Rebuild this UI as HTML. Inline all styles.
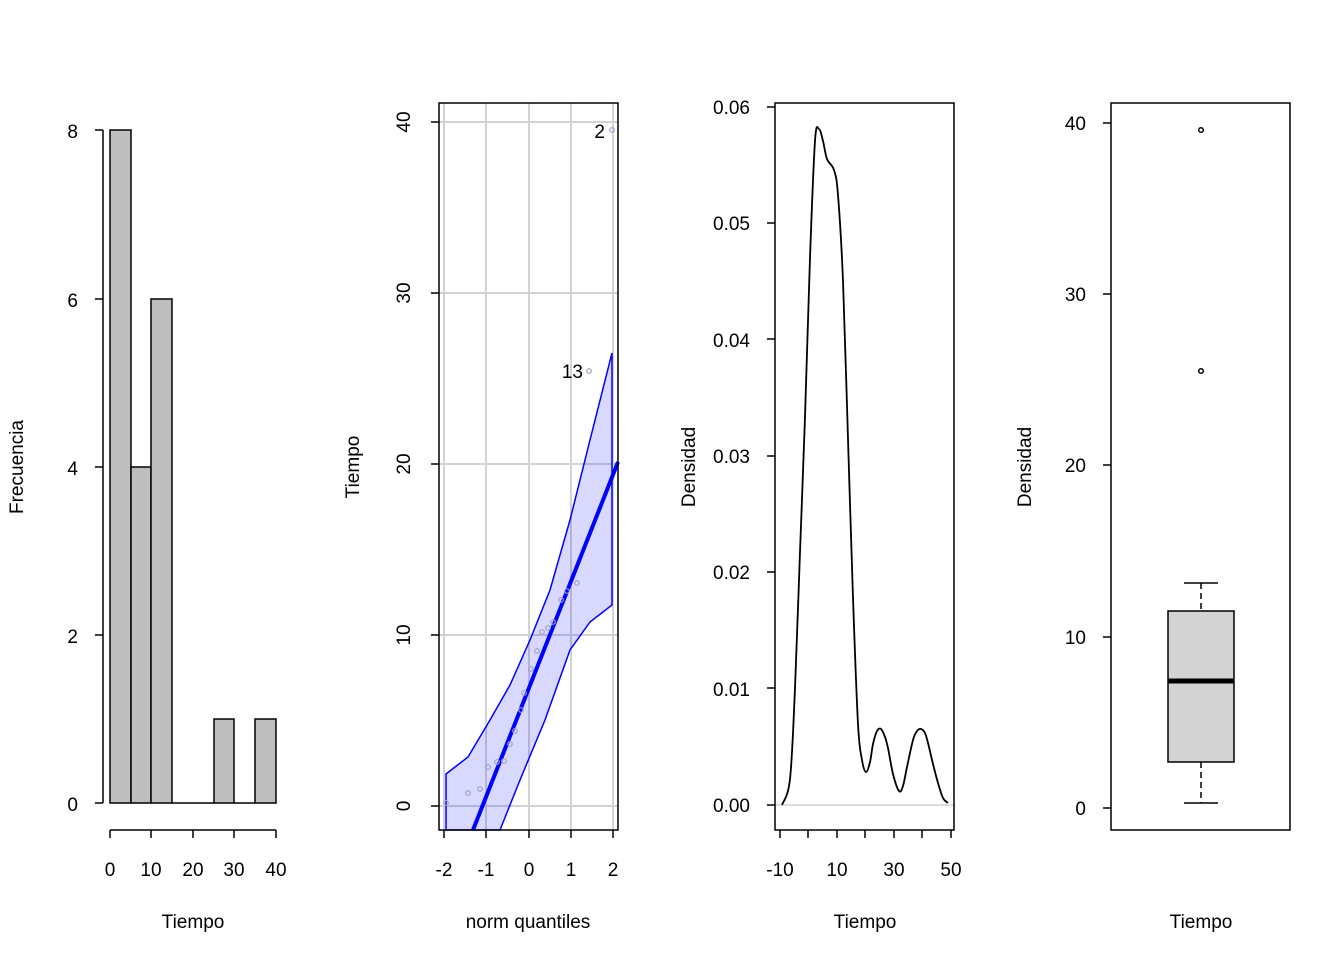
<!DOCTYPE html>
<html><head><meta charset="utf-8"><style>body{margin:0;background:#fff}svg{display:block}text{font-family:"Liberation Sans",Arial,sans-serif;font-size:19px;fill:#000}</style></head><body>
<svg width="1344" height="960" xmlns="http://www.w3.org/2000/svg">
<!-- Panel 1 histogram -->
<g stroke="#000" stroke-width="1.5" fill="#bebebe">
<rect x="110" y="130" width="21" height="673"/>
<rect x="131" y="467" width="20" height="336"/>
<rect x="151" y="299" width="21" height="504"/>
<line x1="172" y1="803" x2="214" y2="803"/>
<rect x="214" y="719" width="20" height="84"/>
<line x1="234" y1="803" x2="255" y2="803"/>
<rect x="255" y="719" width="21" height="84"/>
</g>
<g stroke="#000" stroke-width="1.5" fill="none">
<line x1="103" y1="130" x2="103" y2="803"/>
<line x1="95" y1="130" x2="103" y2="130"/><line x1="95" y1="299" x2="103" y2="299"/><line x1="95" y1="467" x2="103" y2="467"/><line x1="95" y1="635" x2="103" y2="635"/><line x1="95" y1="803" x2="103" y2="803"/>
<line x1="110" y1="830" x2="276" y2="830"/>
<line x1="110" y1="830" x2="110" y2="838"/><line x1="151" y1="830" x2="151" y2="838"/><line x1="193" y1="830" x2="193" y2="838"/><line x1="234" y1="830" x2="234" y2="838"/><line x1="276" y1="830" x2="276" y2="838"/>
</g>
<g text-anchor="end"><text x="78" y="138">8</text><text x="78" y="307">6</text><text x="78" y="475">4</text><text x="78" y="643">2</text><text x="78" y="811">0</text></g>
<g text-anchor="middle"><text x="110" y="876">0</text><text x="151" y="876">10</text><text x="193" y="876">20</text><text x="234" y="876">30</text><text x="276" y="876">40</text>
<text x="193" y="928">Tiempo</text>
<text transform="translate(23,467) rotate(-90)">Frecuencia</text></g>

<!-- Panel 2 QQ -->
<g stroke="#d3d3d3" stroke-width="2">
<line x1="444" y1="103" x2="444" y2="830"/><line x1="486" y1="103" x2="486" y2="830"/><line x1="529" y1="103" x2="529" y2="830"/><line x1="571" y1="103" x2="571" y2="830"/><line x1="613" y1="103" x2="613" y2="830"/>
<line x1="439" y1="122" x2="618" y2="122"/><line x1="439" y1="293" x2="618" y2="293"/><line x1="439" y1="464" x2="618" y2="464"/><line x1="439" y1="635" x2="618" y2="635"/><line x1="439" y1="806" x2="618" y2="806"/>
</g>
<polygon points="446,774 468,757 490,720 510,685 530,640 550,590 570,520 590,440 612,353 612,605 590,622 570,650 545,720 520,780 500,830 446,830" fill="rgba(0,0,255,0.15)" stroke="#0000ff" stroke-width="1.5"/>
<line x1="473" y1="830" x2="618" y2="462" stroke="#0000ff" stroke-width="4"/>
<g fill="none" stroke="#a0a0c0" stroke-width="1.2">
<circle cx="446" cy="803" r="2.3"/><circle cx="468" cy="793" r="2.3"/><circle cx="480" cy="789" r="2.3"/><circle cx="488" cy="767" r="2.3"/><circle cx="497" cy="762" r="2.3"/><circle cx="504" cy="761" r="2.3"/><circle cx="510" cy="744" r="2.3"/><circle cx="515" cy="731" r="2.3"/><circle cx="521" cy="710" r="2.3"/><circle cx="524" cy="693" r="2.3"/><circle cx="531" cy="669" r="2.3"/><circle cx="537" cy="651" r="2.3"/><circle cx="542" cy="632" r="2.3"/><circle cx="548" cy="628" r="2.3"/><circle cx="553" cy="622" r="2.3"/><circle cx="561" cy="600" r="2.3"/><circle cx="567" cy="591" r="2.3"/><circle cx="577" cy="583" r="2.3"/><circle cx="589" cy="371" r="2.3"/><circle cx="612" cy="130" r="2.3"/>
</g>
<text x="583" y="378" text-anchor="end">13</text>
<text x="605" y="138" text-anchor="end">2</text>
<g stroke="#000" stroke-width="1.5" fill="none">
<rect x="439" y="103" width="179" height="727"/>
<line x1="444" y1="830" x2="444" y2="838"/><line x1="486" y1="830" x2="486" y2="838"/><line x1="529" y1="830" x2="529" y2="838"/><line x1="571" y1="830" x2="571" y2="838"/><line x1="613" y1="830" x2="613" y2="838"/>
<line x1="431" y1="122" x2="439" y2="122"/><line x1="431" y1="293" x2="439" y2="293"/><line x1="431" y1="464" x2="439" y2="464"/><line x1="431" y1="635" x2="439" y2="635"/><line x1="431" y1="806" x2="439" y2="806"/>
</g>
<g text-anchor="middle"><text x="444" y="876">-2</text><text x="486" y="876">-1</text><text x="529" y="876">0</text><text x="571" y="876">1</text><text x="613" y="876">2</text>
<text x="528" y="928">norm quantiles</text>
<text transform="translate(359,467) rotate(-90)">Tiempo</text>
<text transform="translate(410,122) rotate(-90)">40</text><text transform="translate(410,293) rotate(-90)">30</text><text transform="translate(410,464) rotate(-90)">20</text><text transform="translate(410,635) rotate(-90)">10</text><text transform="translate(410,806) rotate(-90)">0</text></g>

<!-- Panel 3 density -->
<line x1="775" y1="805" x2="954" y2="805" stroke="#bebebe" stroke-width="1"/>
<path id="dens" fill="none" stroke="#000" stroke-width="1.8" stroke-linejoin="round" d="M782,805 L790,779 L795,688 L800,552 L805,417 L810,258 L815,141 L819,129 L823,141 L827,159 L834,170 L838,195 L843,281 L848,439 L853,598 L858,724 L862,760 L866,772 L870,762 L873,744 L877,731 L881,729 L885,737 L888,748 L893,774 L899,791 L903,786 L907,767 L913,740 L917,731 L921,729 L925,733 L928,743 L933,764 L938,783 L943,798 L948,803"/>
<g stroke="#000" stroke-width="1.5" fill="none">
<rect x="775" y="103" width="179" height="727"/>
<line x1="767" y1="107" x2="775" y2="107"/><line x1="767" y1="223" x2="775" y2="223"/><line x1="767" y1="339" x2="775" y2="339"/><line x1="767" y1="456" x2="775" y2="456"/><line x1="767" y1="572" x2="775" y2="572"/><line x1="767" y1="688" x2="775" y2="688"/><line x1="767" y1="805" x2="775" y2="805"/>
<line x1="780" y1="830" x2="780" y2="838"/><line x1="808" y1="830" x2="808" y2="838"/><line x1="837" y1="830" x2="837" y2="838"/><line x1="865" y1="830" x2="865" y2="838"/><line x1="894" y1="830" x2="894" y2="838"/><line x1="922" y1="830" x2="922" y2="838"/><line x1="951" y1="830" x2="951" y2="838"/>
</g>
<g text-anchor="end"><text x="750" y="114">0.06</text><text x="750" y="230">0.05</text><text x="750" y="347">0.04</text><text x="750" y="463">0.03</text><text x="750" y="579">0.02</text><text x="750" y="696">0.01</text><text x="750" y="812">0.00</text></g>
<g text-anchor="middle"><text x="780" y="876">-10</text><text x="837" y="876">10</text><text x="894" y="876">30</text><text x="951" y="876">50</text>
<text x="865" y="928">Tiempo</text>
<text transform="translate(695,467) rotate(-90)">Densidad</text></g>

<!-- Panel 4 boxplot -->
<g stroke="#000" stroke-width="1.5" fill="none">
<rect x="1111" y="103" width="179" height="727"/>
<line x1="1103" y1="123" x2="1111" y2="123"/><line x1="1103" y1="294" x2="1111" y2="294"/><line x1="1103" y1="465" x2="1111" y2="465"/><line x1="1103" y1="637" x2="1111" y2="637"/><line x1="1103" y1="808" x2="1111" y2="808"/>
<line x1="1201" y1="583" x2="1201" y2="611" stroke-dasharray="6,4"/>
<line x1="1201" y1="762" x2="1201" y2="803" stroke-dasharray="6,4"/>
<line x1="1184" y1="583" x2="1218" y2="583"/><line x1="1184" y1="803" x2="1218" y2="803"/>
<rect x="1168" y="611" width="66" height="151" fill="#d3d3d3"/>
<circle cx="1201" cy="130" r="2.3"/><circle cx="1201" cy="371" r="2.3"/>
</g>
<line x1="1168" y1="681" x2="1234" y2="681" stroke="#000" stroke-width="5"/>
<g text-anchor="end"><text x="1086" y="130">40</text><text x="1086" y="301">30</text><text x="1086" y="472">20</text><text x="1086" y="644">10</text><text x="1086" y="815">0</text></g>
<g text-anchor="middle"><text x="1201" y="928">Tiempo</text>
<text transform="translate(1031,467) rotate(-90)">Densidad</text></g>
</svg>
<script>
(function(){var p=document.getElementById('dens');var nums=p.getAttribute('d').match(/-?\d+(\.\d+)?/g).map(Number);var pts=[];for(var i=0;i<nums.length;i+=2)pts.push([nums[i],nums[i+1]]);var d='M'+pts[0][0]+','+pts[0][1];for(var i=0;i<pts.length-1;i++){var p0=pts[i-1]||pts[i],p1=pts[i],p2=pts[i+1],p3=pts[i+2]||p2;var c1=[p1[0]+(p2[0]-p0[0])/6,p1[1]+(p2[1]-p0[1])/6],c2=[p2[0]-(p3[0]-p1[0])/6,p2[1]-(p3[1]-p1[1])/6];d+=' C'+c1+' '+c2+' '+p2;}p.setAttribute('d',d);})();
</script>
</body></html>
